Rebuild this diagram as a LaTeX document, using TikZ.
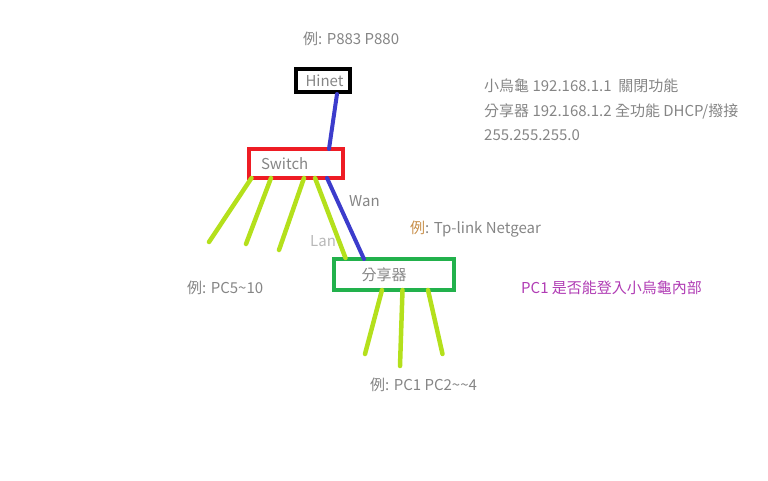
\documentclass[tikz,border=0pt]{standalone}
\usepackage{fontspec}
\setmainfont{Noto Sans CJK TC}
\usetikzlibrary{calc}
\definecolor{txtgray}{HTML}{858585}
\definecolor{lightgray}{HTML}{B8B8B8}
\definecolor{wireblue}{HTML}{3C3CCC}
\definecolor{wiregreen}{HTML}{B4E01C}
\definecolor{boxred}{HTML}{EE1C24}
\definecolor{boxgreen}{HTML}{22B14C}
\definecolor{magentatxt}{HTML}{B03CB4}
\definecolor{orangetxt}{HTML}{C8904C}
\tikzset{
  lbl/.style={font=\fontsize{15}{18}\selectfont, text=txtgray, inner sep=0pt},
  devbox/.style={draw, line width=4pt, inner sep=0pt, font=\fontsize{15}{18}\selectfont, text=txtgray},
  bluewire/.style={wireblue, line width=4pt, line cap=round},
  greenwire/.style={wiregreen, line width=4.5pt, line cap=round},
}
\begin{document}
\begin{tikzpicture}[x=1pt,y=-1pt]
\useasboundingbox (0,0) rectangle (768,480);
% boxes
\node[devbox, draw=black, minimum width=54pt, minimum height=23pt] (hinet) at (323,80.5) {\hspace{3pt}Hinet};
\node[devbox, draw=boxred, minimum width=94pt, minimum height=29pt, text width=80pt, align=left] (switch) at (296,163.5) {\hspace{5pt}\raisebox{-1.5pt}{Switch}};
\node[devbox, draw=boxgreen, minimum width=120pt, minimum height=31pt] (router) at (394,274.5) {\hspace{-20pt}\raisebox{-3pt}{分享器}};
% wire end points
\coordinate (hb) at (337,94);
\coordinate (st) at (329,149);
\coordinate (sb) at (327,178);
\coordinate (rt) at (364,259);
\coordinate (g1a) at (251.5,178); \coordinate (g1b) at (209,242);
\coordinate (g2a) at (271,178);   \coordinate (g2b) at (246,244);
\coordinate (g3a) at (304,178);   \coordinate (g3b) at (279,250);
\coordinate (g4a) at (315,178);   \coordinate (g4b) at (345.5,258);
\coordinate (r1a) at (382,290);   \coordinate (r1b) at (365,354);
\coordinate (r2a) at (402.5,290); \coordinate (r2b) at (400,366);
\coordinate (r3a) at (428,290);   \coordinate (r3b) at (442.5,354);
% wires
\draw[bluewire] (hb) -- (st);
\draw[bluewire] (sb) -- (rt);
\draw[greenwire] (g1a) -- (g1b);
\draw[greenwire] (g2a) -- (g2b);
\draw[greenwire] (g3a) -- (g3b);
\draw[greenwire] (g4a) -- (g4b);
\draw[greenwire] (r1a) -- (r1b);
\draw[greenwire] (r2a) -- (r2b);
\draw[greenwire] (r3a) -- (r3b);
% labels
\node[lbl, anchor=west] (ex1) at (303,39) {例: P883 P880};
\node[lbl, anchor=west] (info1) at (484,86) {小烏龜 192.168.1.1\ \ 關閉功能};
\node[lbl, anchor=west] (info2) at (484,111) {分享器 192.168.1.2 全功能 DHCP/撥接};
\node[lbl, anchor=west] (info3) at (484,135) {255.255.255.0};
\node[lbl, anchor=west] (wan) at (349,201) {Wan};
\node[lbl, anchor=west, text=lightgray] (lan) at (310,241) {Lan};
\node[lbl, anchor=west] (ex2) at (410,229) {\textcolor{orangetxt}{例}: Tp-link Netgear};
\node[lbl, anchor=west] (ex3) at (187,288) {例: PC5\char`~10};
\node[lbl, anchor=west, text=magentatxt] (q) at (521,288) {PC1 是否能登入小烏龜內部};
\node[lbl, anchor=west] (ex4) at (370,385) {例: PC1 PC2\char`~\char`~4};
\end{tikzpicture}
\end{document}
